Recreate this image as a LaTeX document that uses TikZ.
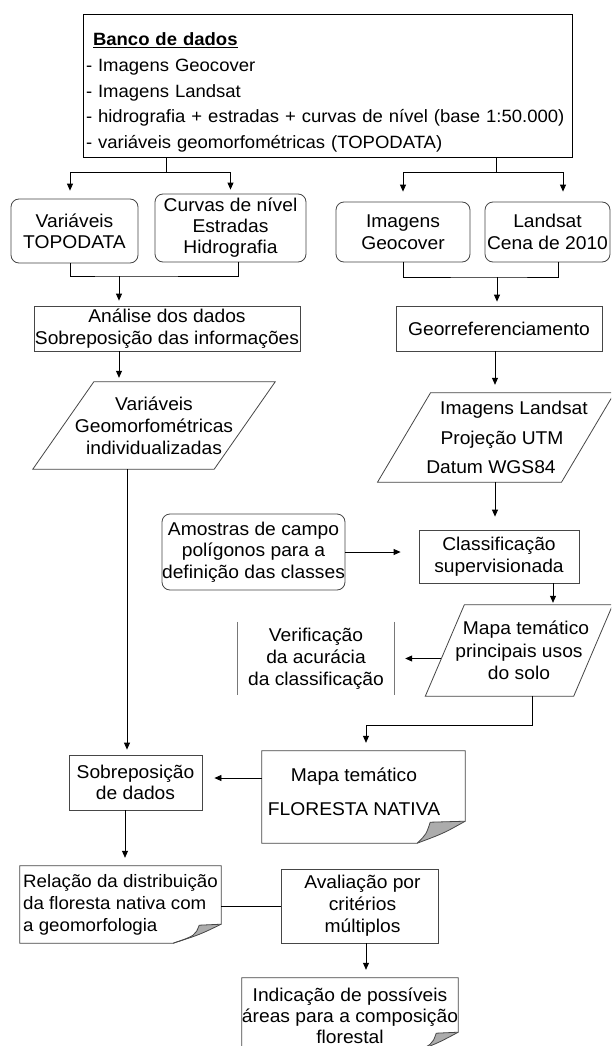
\documentclass[tikz,border=0pt]{standalone}
\usepackage{fontspec}
\setmainfont{Liberation Sans}[FakeStretch=1.04]
\usetikzlibrary{arrows.meta,calc}
\definecolor{foldgray}{RGB}{172,172,172}
\definecolor{edge}{RGB}{70,70,70}
\definecolor{light}{RGB}{120,120,120}
\tikzset{
  txt/.style={inner sep=0pt, align=center, font=\fontsize{18.5}{22}\selectfont, text=black},
  sbox/.style={txt, draw=edge, line width=0.8pt},
  rbox/.style={sbox, rounded corners=8pt},
  hidden/.style={txt},
  conn/.style={draw=black, line width=0.8pt},
  arr/.style={conn, -{Triangle[length=7pt,width=6pt]}},
  shapeline/.style={draw=edge, line width=0.8pt},
}
\newcommand{\docshape}[4]{%
  \fill[foldgray] ($(#1.south east)+(0,-#2)$) -- ($(#1.south east)+(-#4,-#2+1)$)
     .. controls ($(#1.south east)+(-#4-4,-#2*0.4)$) .. ($(#1.south east)+(-#3,0)$)
     .. controls ($(#1.south east)+(-#3*0.45,-#2*0.45)$) .. ($(#1.south east)+(0,-#2)$) -- cycle;
  \draw[shapeline] ($(#1.south east)+(0,-#2)$) -- ($(#1.south east)+(-#4,-#2+1)$)
     .. controls ($(#1.south east)+(-#4-4,-#2*0.4)$) .. ($(#1.south east)+(-#3,0)$);
  \draw[shapeline] (#1.north west) -- (#1.north east) -- ($(#1.south east)+(0,-#2)$)
     .. controls ($(#1.south east)+(-#3*0.45,-#2*0.45)$) .. ($(#1.south east)+(-#3,0)$)
     -- (#1.south west) -- cycle;
}
\newcommand{\pgram}[2]{%
  \draw[shapeline] ($(#1.south west)+(-#2,0)$) -- ($(#1.south east)+(-#2,0)$)
    -- ($(#1.north east)+(#2,0)$) -- ($(#1.north west)+(#2,0)$) -- cycle;
}
\begin{document}
\begin{tikzpicture}[x=1pt,y=-1pt]
\useasboundingbox (0,0) rectangle (611,1046);
\clip (0,0) rectangle (611,1046);
\fill[white] (0,0) rectangle (611,1046);

% nodes
\node[sbox, draw=black, line width=1pt, minimum width=489pt, minimum height=142pt, text width=483pt, align=left,
      font=\fontsize{17.8}{25.75}\selectfont] (bd) at (327.5,86)
  {\rule{0pt}{26pt}\hspace*{7pt}\underline{\textbf{Banco de dados}}\\
   - Imagens Geocover\\
   - Imagens Landsat\\
   - hidrografia + estradas + curvas de nível (base 1:50.000)\\
   - variáveis geomorfométricas (TOPODATA)};

\node[rbox, minimum width=127pt, minimum height=64pt, font=\fontsize{18.5}{21}\selectfont] (v1) at (74.5,231) {Variáveis\\TOPODATA};
\node[rbox, minimum width=151pt, minimum height=68pt, font=\fontsize{18.5}{21}\selectfont] (cv) at (230.5,228) {Curvas de nível\\Estradas\\Hidrografia};
\node[rbox, minimum width=134pt, minimum height=60pt] (ig) at (403,232) {Imagens\\Geocover};
\node[rbox, minimum width=125pt, minimum height=60pt] (ls) at (547.5,232) {Landsat\\Cena de 2010};

\node[sbox, minimum width=266pt, minimum height=45pt] (an) at (167,328.5) {Análise dos dados\\Sobreposição das informações};
\node[sbox, minimum width=206pt, minimum height=45pt] (gr) at (499,328.5) {Georreferenciamento};

\node[hidden, minimum width=181pt, minimum height=87pt] (vg) at (154,425.5) {Variáveis\\Geomorfométricas\\individualizadas};
\node[hidden, minimum width=178pt, minimum height=89pt, font=\fontsize{18.5}{29.5}\selectfont] (lp) at (496,437.5)
  {\hspace*{36pt}Imagens Landsat\\\hspace*{12pt}Projeção UTM\\Datum WGS84\hspace*{10pt}};

\node[rbox, minimum width=183pt, minimum height=76pt, font=\fontsize{18.5}{21.5}\selectfont] (am) at (253.5,552) {Amostras de campo\\polígonos para a\\definição das classes};
\node[sbox, minimum width=160pt, minimum height=53pt] (cl) at (499,556.5) {Classificação\\supervisionada};

\node[hidden, minimum width=148pt, minimum height=91pt, font=\fontsize{18.5}{22.5}\selectfont] (mt) at (519,650.5) {\hspace*{14pt}Mapa temático\\principais usos\\do solo};
\node[hidden, minimum width=156pt, minimum height=73pt] (vf) at (316,658.5) {Verificação\\da acurácia\\da classificação};

\node[hidden, minimum width=203pt, minimum height=92pt] (mf) at (363.5,797)
  {Mapa temático\hspace*{19pt}\\[12pt]FLORESTA NATIVA\hspace*{19pt}\rule[-10pt]{0pt}{0pt}};
\node[sbox, minimum width=133pt, minimum height=55pt, font=\fontsize{18.5}{21}\selectfont] (sd) at (135.5,782.5) {Sobreposição\\de dados};

\node[hidden, minimum width=201pt, minimum height=77pt, align=left, font=\fontsize{18}{22}\selectfont] (rl) at (120.5,904.5)
  {Relação da distribuição\\da floresta nativa com\\a geomorfologia};
\node[sbox, minimum width=157pt, minimum height=74pt] (av) at (359.5,906) {\hspace*{6pt}Avaliação por\\\hspace*{6pt}critérios\\\hspace*{6pt}múltiplos};
\node[hidden, minimum width=216pt, minimum height=75pt, font=\fontsize{18.5}{21}\selectfont] (ind) at (350,1015.5)
  {Indicação de possíveis\\áreas para a composição\\florestal};

% shapes
\pgram{vg}{30.5}
\pgram{lp}{26.5}
\pgram{mt}{19.5}
\draw[shapeline, draw=light] (vf.north west) -- (vf.south west);
\draw[shapeline, draw=light] (vf.north east) -- (vf.south east);
\docshape{mf}{22}{48}{35}
\docshape{rl}{19}{48}{22}
\docshape{ind}{21}{48}{22}

% helper coordinates
\coordinate (j1) at (166,172);
\coordinate (j2) at (496,172);
\coordinate (j3) at (119,276);
\coordinate (j4) at (497,277);
\coordinate (j5) at (532,725);
\coordinate (xa) at (119,0);
\coordinate (xb) at (495,0);
\coordinate (xc) at (553,0);
\coordinate (xd) at (366,0);
\coordinate (xe) at (127,0);
\coordinate (xf) at (125,0);
\coordinate (ye) at (0,778);

% connectors
\draw[conn] (bd.south -| j1) -- (j1);
\draw[arr, shorten >=8pt] (j1) -| ([xshift=-4.5pt]v1.north);
\draw[arr, shorten >=4pt] (j1) -| (cv.north);
\draw[conn] (bd.south -| j2) -- (j2);
\draw[arr, shorten >=10pt] (j2) -| (ig.north);
\draw[arr, shorten >=10pt] (j2) -| ([xshift=15.5pt]ls.north);

\draw[conn] ([xshift=-4.5pt]v1.south) |- (j3) -| ([xshift=7.5pt]cv.south);
\draw[arr, shorten >=5pt] (j3) -- (an.north -| j3);
\draw[conn] (ig.south) |- (j4) -| ([xshift=10.5pt]ls.south);
\draw[arr, shorten >=4pt] (j4) -- (gr.north -| j4);

\draw[arr, shorten >=4pt] (an.south -| xa) -- (vg.north -| xa);
\draw[arr, shorten >=8pt] (gr.south -| xb) -- (lp.north -| xb);
\draw[arr, shorten >=13pt] (lp.south -| xb) -- (cl.north -| xb);
\draw[arr, shorten >=18pt] (am.east) -- (cl.west |- am.east);
\draw[arr, shorten >=2pt] (cl.south -| xc) -- (mt.north -| xc);
\draw[arr, shorten >=11pt] ([xshift=-4pt]mt.west |- vf.east) -- (vf.east);
\draw[arr, shorten >=8pt] (mt.south -| j5) -- (j5) -| (mf.north -| xd);

\draw[arr, shorten >=5pt] (vg.south -| xe) -- (sd.north -| xe);
\draw[arr, shorten >=12pt] (mf.west |- ye) -- (sd.east |- ye);
\draw[arr, shorten >=8pt] (sd.south -| xf) -- (rl.north -| xf);
\draw[conn] (rl.east |- av.west) -- (av.west);
\draw[arr, shorten >=8pt] (av.south -| xd) -- (ind.north -| xd);
\end{tikzpicture}
\end{document}
